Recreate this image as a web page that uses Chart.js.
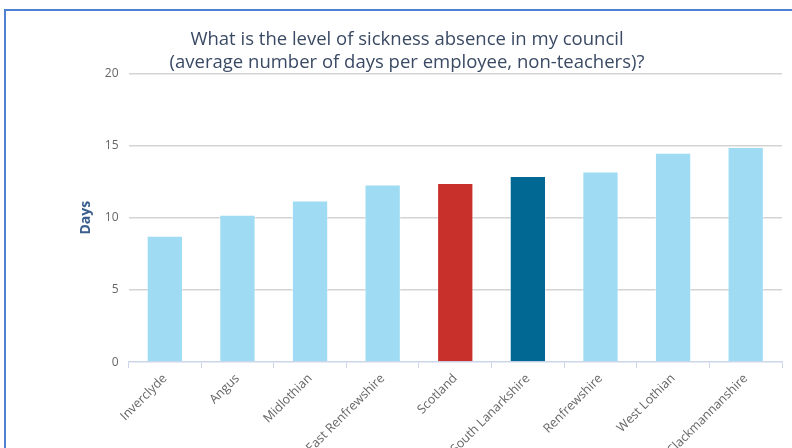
<!DOCTYPE html>
<html>
<head>
<meta charset="utf-8">
<title>Sickness absence</title>
<script src="https://cdn.jsdelivr.net/npm/chart.js@4/dist/chart.umd.min.js"></script>
<style>
    html, body {
        margin: 0;
        padding: 0;
        background: #ffffff;
        overflow: hidden;
        width: 792px;
        height: 448px;
    }
    #frame {
        position: absolute;
        left: 4px;
        top: 9px;
        width: 900px;
        height: 500px;
        border-left: 2px solid #4f7fd0;
        border-top: 2px solid #4f7fd0;
    }
    #box {
        position: absolute;
        left: 0;
        top: 0;
        width: 810px;
        height: 450px;
    }
</style>
</head>
<body>
<div id="frame">
    <div id="box"><canvas id="absence"></canvas></div>
</div>
<script>
// chart data
var councils = ["Inverclyde", "Angus", "Midlothian", "East Renfrewshire", "Scotland",
    "South Lanarkshire", "Renfrewshire", "West Lothian", "Clackmannanshire"];
var days = [8.75, 10.2, 11.2, 12.3, 12.4, 12.9, 13.2, 14.5, 14.9];
var yTicks = [0, 5, 10, 15, 20];
var titleLines = ["What is the level of sickness absence in my council",
    "(average number of days per employee, non-teachers)?"];
var yTitle = "Days";

var scotland = "Scotland";
var myCouncil = "South Lanarkshire";

function barColour(name) {
    if (name == scotland) return '#c8302b';
    if (name == myCouncil) return '#006892';
    return '#9fdcf4';
}

function makeChart() {
    var ctx = document.getElementById("absence");

    var fonte = "'Open Sans', 'DejaVu Sans', sans-serif";

    var dataDias = {
        label: yTitle,
        data: days,
        backgroundColor: councils.map(barColour),
        borderColor: 'rgba(255,255,255,0.45)',
        borderWidth: 1,
        categoryPercentage: 1,
        barPercentage: 0.5
    };

    var chartOptions = {
        responsive: true,
        maintainAspectRatio: false,
        animation: false,
        layout: {
            padding: {left: 26, right: 34, top: 0, bottom: 0}
        },
        plugins: {
            legend: {display: false},
            tooltip: {enabled: false},
            title: {
                display: true,
                text: titleLines,
                color: '#3a4a64',
                font: {family: fonte, size: 18.5, weight: 'normal', lineHeight: 1.2},
                padding: {top: 18, bottom: 0}
            }
        },
        scales: {
            x: {
                grid: {
                    display: true,
                    drawOnChartArea: false,
                    drawTicks: true,
                    tickLength: 6,
                    color: '#ccd6eb',
                    lineWidth: 1
                },
                border: {display: true, color: '#ccd6eb', width: 1.5},
                ticks: {
                    color: '#666666',
                    font: {family: fonte, size: 12.5},
                    minRotation: 45,
                    maxRotation: 45,
                    padding: 3
                }
            },
            y: {
                min: 0,
                max: 20,
                afterBuildTicks: function (scale) {
                    scale.ticks = yTicks.map(function (v) { return {value: v}; });
                },
                grid: {
                    drawTicks: false,
                    color: function (c) {
                        return c.tick && c.tick.value === 0 ? 'rgba(0,0,0,0)' : '#d3d3d3';
                    },
                    lineWidth: 1.5
                },
                border: {display: false},
                ticks: {
                    color: '#666666',
                    font: {family: fonte, size: 12},
                    padding: 10
                },
                title: {
                    display: true,
                    text: yTitle,
                    color: '#3a5f8e',
                    font: {family: fonte, size: 14, weight: 'bold'},
                    padding: {top: 46, bottom: 0}
                }
            }
        }
    };

    new Chart(ctx, {
        type: 'bar',
        data: {labels: councils, datasets: [dataDias]},
        options: chartOptions
    });
}

document.addEventListener('DOMContentLoaded', makeChart);
</script>
</body>
</html>
